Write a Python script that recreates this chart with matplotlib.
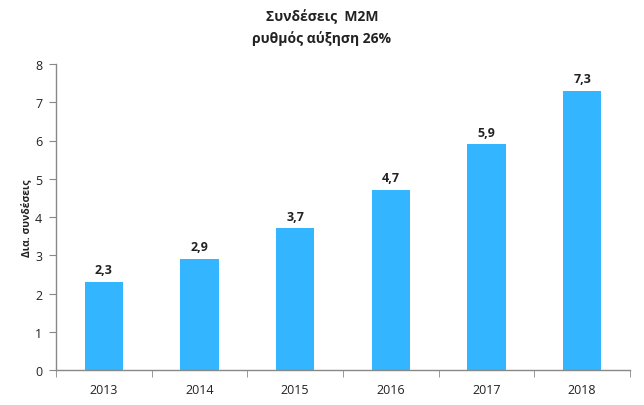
import matplotlib
matplotlib.use("Agg")
import matplotlib.pyplot as plt
import numpy as np

years = ["2013", "2014", "2015", "2016", "2017", "2018"]
values = [2.3, 2.9, 3.7, 4.7, 5.9, 7.3]
labels = ["2,3", "2,9", "3,7", "4,7", "5,9", "7,3"]
title = "Συνδέσεις  M2M\nρυθμός αύξηση 26%"
ylabel = "Δια. συνδέσεις"

plt.rcParams['font.family'] = ['Open Sans', 'DejaVu Sans']

fig = plt.figure(figsize=(6.44, 4.06), dpi=100)
ax = fig.add_axes([56/644, 1-371/406, (630-56)/644, (371-65)/406])

x = np.arange(len(years))
ax.bar(x, values, width=0.4, color="#33B5FF", zorder=2)
for xi, v, lab in zip(x, values, labels):
    ax.text(xi, v + 0.15, lab, ha="center", va="bottom", fontsize=9, fontweight="bold", color="#222222")

ax.set_xlim(-0.5, len(years) - 0.5)
ax.set_ylim(0, 8)
ax.set_yticks(range(0, 9))
ax.set_yticklabels([str(i) for i in range(0, 9)], fontsize=9, color="#222222")
ax.set_xticks(x)
ax.set_xticklabels(years, fontsize=9, color="#222222")
ax.tick_params(axis="x", which="major", length=0, pad=9)
ax.set_xticks(np.arange(-0.5, len(years)), minor=True)
ax.tick_params(axis="x", which="minor", length=5, color="#888888", direction="out")
ax.tick_params(axis="y", length=5, color="#888888", direction="out", pad=5)

for s in ["top", "right"]:
    ax.spines[s].set_visible(False)
for s in ["left", "bottom"]:
    ax.spines[s].set_color("#888888")
    ax.spines[s].set_linewidth(1)

ax.set_ylabel(ylabel, fontsize=7.5, fontweight="bold", color="#222222", labelpad=2)
fig.text(0.5, 1-28/406, title, ha="center", va="center", fontsize=10, fontweight="bold", color="#222222", linespacing=1.6)

fig.savefig("out.png", dpi=100)
